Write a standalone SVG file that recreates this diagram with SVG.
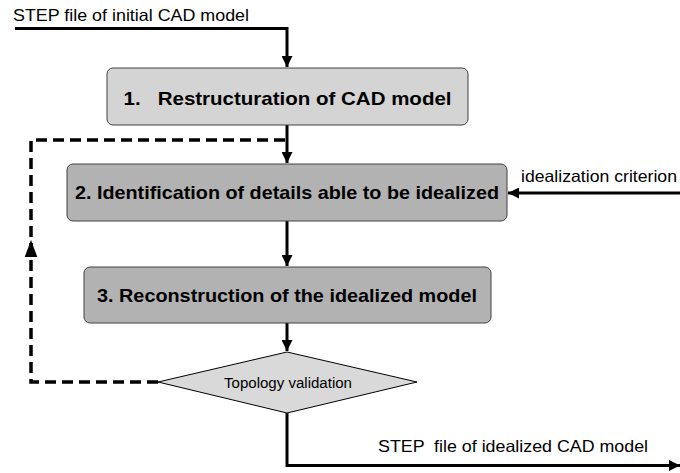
<svg xmlns="http://www.w3.org/2000/svg" width="680" height="473" viewBox="0 0 680 473">
<defs>
<style>
.lbl{font-family:"Liberation Sans",Arial,sans-serif;font-size:16.5px;fill:#000}
.bt{font-family:"Liberation Sans",Arial,sans-serif;font-size:18.5px;font-weight:bold;fill:#000}
.st{font-family:"Liberation Sans",Arial,sans-serif;font-size:14px;fill:#000}
.box{stroke:#404040;stroke-width:1}
.ln{fill:none;stroke:#000;stroke-width:3}
.dash{fill:none;stroke:#000;stroke-width:3.5;stroke-dasharray:11 6}
</style>
<marker id="ah" markerUnits="userSpaceOnUse" markerWidth="11" markerHeight="11" viewBox="0 0 10 10" refX="10" refY="5" orient="auto">
<path d="M0,0 L10,5 L0,10 z" fill="#000"/>
</marker>
<marker id="ahd" markerUnits="userSpaceOnUse" markerWidth="17" markerHeight="17" viewBox="0 0 10 10" refX="10" refY="5" orient="auto">
<path d="M0,1.3 L10,5 L0,8.7 z" fill="#000"/>
</marker>
</defs>
<g id="connectors">
<polyline class="ln" points="15,28.5 287,28.5 287,67" marker-end="url(#ah)"/>
<line class="ln" x1="287" y1="125" x2="287" y2="163" marker-end="url(#ah)"/>
<line class="ln" x1="287" y1="221" x2="287" y2="266" marker-end="url(#ah)"/>
<line class="ln" x1="287" y1="323" x2="287" y2="351" marker-end="url(#ah)"/>
<polyline class="ln" points="287,413 287,465.5 680,465.5" marker-end="url(#ah)"/>
<line class="ln" x1="680" y1="193" x2="508" y2="193" marker-end="url(#ah)"/>
<polyline class="dash" points="158,382 31,382 31,140 285,140"/>
<line x1="31" y1="262" x2="31" y2="240" stroke="#000" stroke-width="0.1" marker-end="url(#ahd)"/>
</g>
<g id="n1">
<rect class="box" x="107" y="68" width="361" height="57" rx="6" fill="#d4d4d4"/>
<text class="bt" x="287.5" y="105" text-anchor="middle" xml:space="preserve" textLength="328" lengthAdjust="spacingAndGlyphs">1.   Restructuration of CAD model</text>
</g>
<g id="n2">
<rect class="box" x="67" y="164" width="440" height="57" rx="6" fill="#b2b2b2"/>
<text class="bt" x="287" y="199" text-anchor="middle" textLength="424" lengthAdjust="spacingAndGlyphs">2. Identification of details able to be idealized</text>
</g>
<g id="n3">
<rect class="box" x="84" y="267" width="407" height="56" rx="6" fill="#b2b2b2"/>
<text class="bt" x="287" y="302" text-anchor="middle" textLength="380" lengthAdjust="spacingAndGlyphs">3. Reconstruction of the idealized model</text>
</g>
<g id="n4">
<polygon points="287,352 417,382 287,413 158,382" fill="#d9d9d9" stroke="#000" stroke-width="1"/>
<text class="st" x="288" y="388" text-anchor="middle" textLength="128" lengthAdjust="spacingAndGlyphs">Topology validation</text>
</g>
<g id="labels">
<text class="lbl" x="13" y="20.5" textLength="236" lengthAdjust="spacingAndGlyphs">STEP file of initial CAD model</text>
<text class="lbl" x="521" y="182" textLength="156" lengthAdjust="spacingAndGlyphs">idealization criterion</text>
<text class="lbl" x="378" y="452" xml:space="preserve" textLength="270" lengthAdjust="spacingAndGlyphs">STEP  file of idealized CAD model</text>
</g>
</svg>
